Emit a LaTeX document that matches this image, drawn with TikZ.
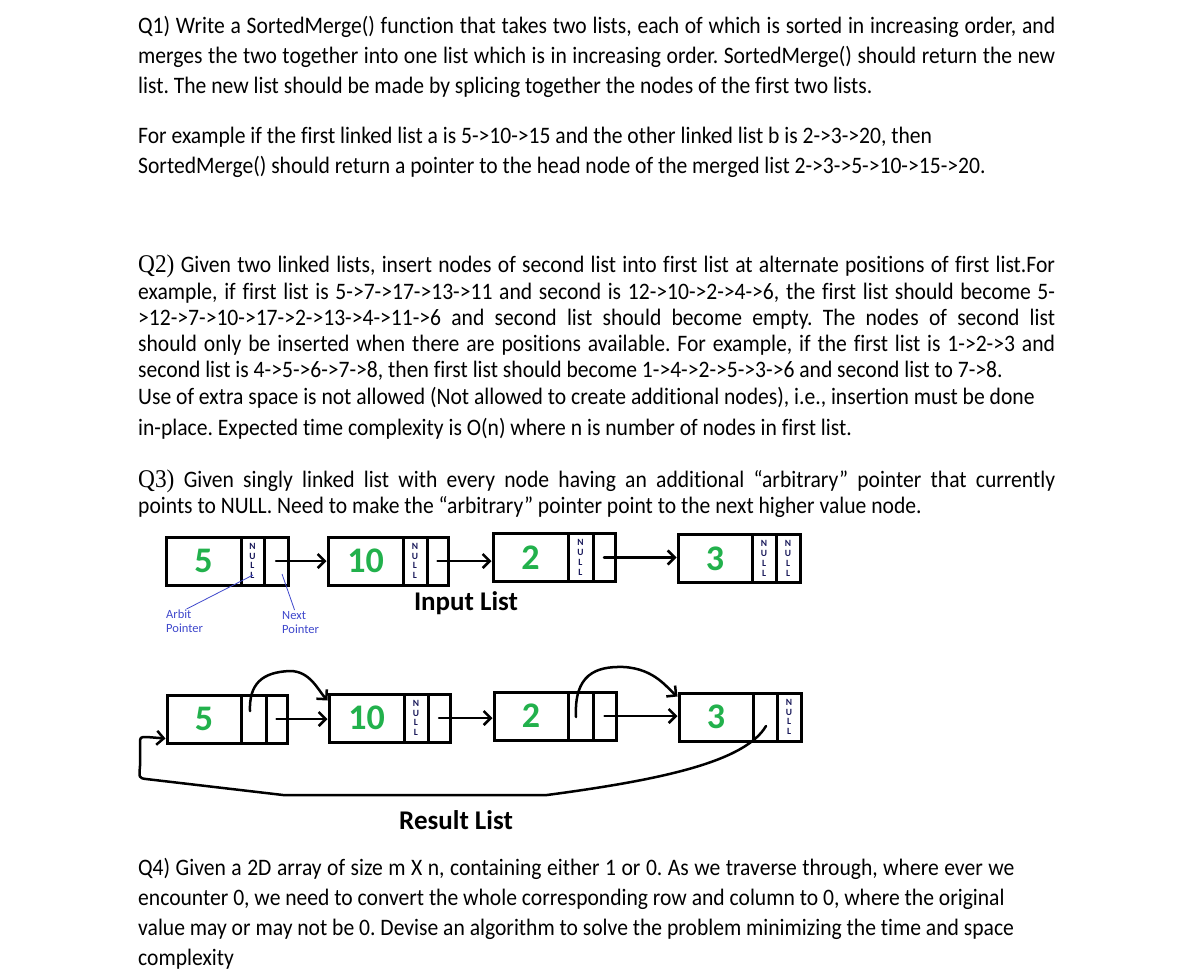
\documentclass[tikz,border=0pt]{standalone}
\usepackage{fontspec}
\setmainfont{Carlito}[Ligatures=CommonOff]
\newfontfamily\bodyfont{Carlito}[FakeStretch=0.915, Ligatures=CommonOff]
\newfontfamily\qserif{Liberation Serif}[FakeStretch=0.915]
\usetikzlibrary{arrows.meta,calc}
\definecolor{numgreen}{RGB}{34,177,76}
\definecolor{lblblue}{RGB}{63,72,204}
\definecolor{nullnavy}{RGB}{25,25,90}
\frenchspacing
\newcommand\nullstk{N\\U\\L\\L}
\newcommand\qs[1]{{\qserif\fontsize{25.5}{27}\selectfont #1}}
\newcommand\jline[1]{\makebox[917pt][s]{#1}}
\newcommand\llnode[9]{%
  \node[datacell, minimum width={#3-#2}] (#1d) at ({(#2+#3)/2},#6) {#7};
  \node[ptrcell, minimum width={#4-#3}] (#1a) at ({(#3+#4)/2},#6) {#8};
  \node[ptrcell, minimum width={#5-#4}] (#1n) at ({(#4+#5)/2},#6) {#9};
}
\begin{document}
\begin{tikzpicture}[x=1pt,y=-1pt,
  txt/.style={anchor=base west, inner sep=0pt, font=\bodyfont\fontsize{23.6}{26}\selectfont},
  cellbox/.style={draw, line width=3pt, minimum height=48pt, inner sep=0pt},
  datacell/.style={cellbox, font=\fontsize{36}{36}\selectfont\bfseries, text=numgreen},
  ptrcell/.style={cellbox, font=\fontsize{9.5}{9.8}\selectfont\bfseries, text=nullnavy, align=center},
  link/.style={line width=2.5pt, line cap=round, line join=round, -{Straight Barb[length=7pt,width=14pt]}},
  lbl/.style={font=\fontsize{12.5}{14}\selectfont, text=lblblue, align=left, inner sep=0pt, anchor=north west},
  lblline/.style={draw=lblblue, line width=0.8pt},
  title/.style={font=\fontsize{27}{30}\selectfont\bfseries, inner sep=0pt}
]
\useasboundingbox[fill=white] (0,0) rectangle (1194,969);

% ---------- Q1 ----------
\node[txt] (q1a) at (138,33) {\jline{Q1) Write a SortedMerge() function that takes two lists, each of which is sorted in increasing order, and}};
\node[txt] (q1b) at (138,63) {\jline{merges the two together into one list which is in increasing order. SortedMerge() should return the new}};
\node[txt] (q1c) at (138,93) {list. The new list should be made by splicing together the nodes of the first two lists.};
\node[txt] (q1d) at (138,143) {\makebox[794pt][s]{For example if the first linked list a is 5->10->15 and the other linked list b is 2->3->20, then}};
\node[txt] (q1e) at (138,173) {SortedMerge() should return a pointer to the head node of the merged list 2->3->5->10->15->20.};

% ---------- Q2 ----------
\node[txt] (q2a) at (138,272) {\jline{\qs{Q2)} Given two linked lists, insert nodes of second list into first list at alternate positions of first list.For}};
\node[txt] (q2b) at (138,299) {\jline{example, if first list is 5->7->17->13->11 and second is 12->10->2->4->6, the first list should become 5-}};
\node[txt] (q2c) at (138,325) {\jline{>12->7->10->17->2->13->4->11->6 and second list should become empty. The nodes of second list}};
\node[txt] (q2d) at (138,351) {\jline{should only be inserted when there are positions available. For example, if the first list is 1->2->3 and}};
\node[txt] (q2e) at (138,377) {second list is 4->5->6->7->8, then first list should become 1->4->2->5->3->6 and second list to 7->8.};
\node[txt] (q2f) at (138,404) {Use of extra space is not allowed (Not allowed to create additional nodes), i.e., insertion must be done};
\node[txt] (q2g) at (138,435) {in-place. Expected time complexity is O(n) where n is number of nodes in first list.};

% ---------- Q3 ----------
\node[txt] (q3a) at (138,487) {\jline{\qs{Q3)} Given singly linked list with every node having an additional “arbitrary” pointer that currently}};
\node[txt] (q3b) at (138,513) {points to NULL. Need to make the “arbitrary” pointer point to the next higher value node.};

% ---------- Input list ----------
\llnode{P}{166}{241}{264}{288}{561}{5}{\nullstk}{}
\llnode{Q}{328}{403}{427}{448}{561}{10}{\nullstk}{}
\llnode{R}{493}{568}{593}{615}{557.5}{2}{\nullstk}{}
\llnode{S}{678}{752}{776}{800}{558.5}{3}{\nullstk}{\nullstk}
\draw[link] (Pn.center) -- (Qd.west);
\draw[link] (Qn.center) -- (Qn.center -| Rd.west);
\draw[link] (Rn.center) -- (Rn.center -| Sd.west);
\node[title] (inlist) at (466,603) {Input List};

\node[lbl] (arblab) at (166,610) {Arbit\\Pointer};
\node[lbl] (nxtlab) at (282,611) {Next\\Pointer};
\coordinate (arbtip) at (253,575);
\coordinate (nxttip) at (282,574);
\draw[lblline] ([xshift=2pt,yshift=1pt]arblab.north) -- (arbtip);
\draw[lblline] ([xshift=-6pt,yshift=1pt]nxtlab.north) -- (nxttip);

% ---------- Result list ----------
\llnode{A}{167}{241}{266}{287}{719}{5}{}{}
\llnode{B}{329}{404}{428}{450}{718}{10}{\nullstk}{}
\llnode{C}{494}{568}{593}{616}{716}{2}{}{}
\llnode{D}{679}{753}{777}{801}{717}{3}{}{\nullstk}
\draw[link] (An.center) -- (An.center -| Bd.west);
\draw[link] (Bn.center) -- (Bn.center -| Cd.west);
\draw[link] (Cn.center) -- (Cn.center -| Dd.west);

\coordinate (aS) at (250,711);
\coordinate (bIn) at ($(Bd.north west)+(0,8)$);
\draw[link] (aS) .. controls (249,684) and (262,672) .. (290,671)
  .. controls (310,671) and (318,690) .. (bIn);

\coordinate (cS) at (576,717);
\coordinate (dIn) at ($(Dd.north west)+(0,5)$);
\draw[link] (cS) .. controls (574,675) and (595,666) .. (624,667)
  .. controls (655,669) and (667,688) .. (dIn);

\coordinate (dS) at (766,726);
\coordinate (aIn) at ($(Ad.south west)+(0,-6)$);
\draw[link] (dS) .. controls (745,762) and (660,780) .. (547,795)
  -- (283,795) -- (146,779) .. controls (139,778) .. (140,766)
  -- (140,744) .. controls (140,737) .. (147,737) -- (aIn);

\node[title] (reslist) at (456,820) {Result List};

% ---------- Q4 ----------
\node[txt] (q4a) at (138,875) {\makebox[876pt][s]{Q4) Given a 2D array of size m X n, containing either 1 or 0. As we traverse through, where ever we}};
\node[txt] (q4b) at (138,905) {encounter 0, we need to convert the whole corresponding row and column to 0, where the original};
\node[txt] (q4c) at (138,935) {value may or may not be 0. Devise an algorithm to solve the problem minimizing the time and space};
\node[txt] (q4d) at (138,965) {complexity};
\end{tikzpicture}
\end{document}
